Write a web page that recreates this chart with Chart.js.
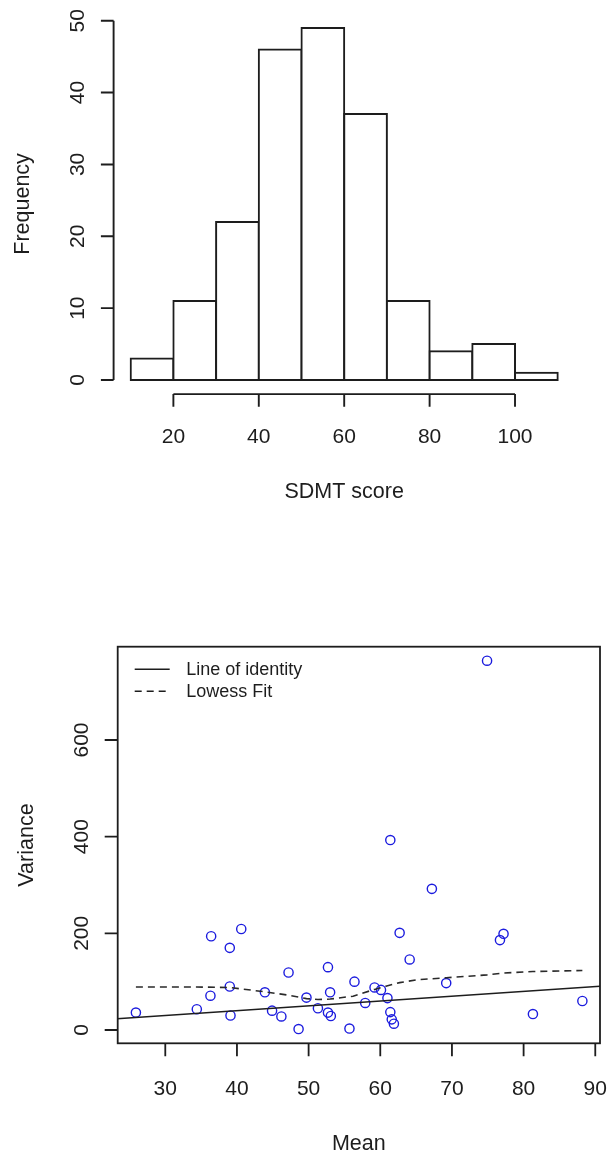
<!DOCTYPE html>
<html>
<head>
<meta charset="utf-8">
<script src="https://cdn.jsdelivr.net/npm/chart.js@4.4.1/dist/chart.umd.min.js"></script>
<style>
  html, body { margin: 0; padding: 0; background: #fff; }
  body { width: 609px; height: 1157px; position: relative; overflow: hidden; }
  canvas { position: absolute; left: 0; }
  #hist { top: 0; }
  #scatter { top: 560px; }
</style>
</head>
<body>
<canvas id="hist" width="609" height="540"></canvas>
<canvas id="scatter" width="609" height="597"></canvas>
<script>
// SDMT score histogram: bin midpoints (bins 10 wide) and counts
const binMids = [15, 25, 35, 45, 55, 65, 75, 85, 95, 105];
const binCounts = [3, 11, 22, 46, 49, 37, 11, 4, 5, 1];
const histXTicks = [20, 40, 60, 80, 100];
const histYTicks = [0, 10, 20, 30, 40, 50];

// Mean and variance of each item
const meanVals = [25.9, 34.4, 36.3, 36.4, 39.0, 39.0, 39.1, 40.6, 43.9, 44.9,
                  46.2, 47.2, 48.6, 49.7, 51.3, 52.7, 53.0, 52.7, 53.1, 55.7,
                  56.4, 57.9, 59.2, 60.1, 61.0, 61.4, 61.6, 61.9, 61.4, 62.7,
                  64.1, 67.2, 69.2, 74.9, 76.7, 77.2, 81.3, 88.2];
const varianceVals = [36, 43, 71, 194, 170, 90, 30, 209, 78, 40,
                      28, 119, 2, 67, 45, 130, 78, 36, 29, 3,
                      100, 56, 88, 83, 66, 37, 22, 13, 393, 201,
                      146, 292, 97, 764, 186, 199, 33, 60];

// Lowess smooth of variance on mean
const lowessX = [25.9, 34.4, 39.0, 43.9, 47.2, 49.7, 51.3, 53.0, 56.2, 59.2,
                 60.9, 62.7, 65.1, 69.2, 74.9, 77.2, 81.3, 88.2];
const lowessY = [89, 89, 88, 79, 72, 65, 63, 64, 70, 84,
                 91, 98, 104, 108, 114, 118, 121, 123];

// Line of identity (variance = mean), clipped to the plot box
const identityX = [20, 95];
const identityY = [20, 95];

const scatXTicks = [30, 40, 50, 60, 70, 80, 90];
const scatYTicks = [0, 200, 400, 600];

const FONT = '"Liberation Sans", Arial, Helvetica, sans-serif';
const INK = '#1d1d1d';
const BLUE = 'rgb(28, 28, 222)';

// Base-graphics style axes: ticks, rotated y labels and axis titles
function baseAxes(o) {
  return {
    id: 'baseAxes',
    afterDraw(chart) {
      const { ctx, chartArea: a } = chart;
      const x = chart.scales.x, y = chart.scales.y;
      ctx.save();
      ctx.strokeStyle = INK;
      ctx.fillStyle = INK;
      ctx.lineWidth = o.lw;
      ctx.lineCap = 'butt';
      if (o.box) {
        ctx.strokeRect(a.left, a.top, a.right - a.left, a.bottom - a.top);
      }
      const xs = o.xTicks.map(v => x.getPixelForValue(v));
      const ys = o.yTicks.map(v => y.getPixelForValue(v));
      ctx.beginPath();
      if (!o.box) {
        ctx.moveTo(xs[0], a.bottom); ctx.lineTo(xs[xs.length - 1], a.bottom);
        ctx.moveTo(a.left, ys[0]); ctx.lineTo(a.left, ys[ys.length - 1]);
      }
      xs.forEach(px => { ctx.moveTo(px, a.bottom); ctx.lineTo(px, a.bottom + o.tick); });
      ys.forEach(py => { ctx.moveTo(a.left, py); ctx.lineTo(a.left - o.tick, py); });
      ctx.stroke();

      ctx.textAlign = 'center';
      ctx.textBaseline = 'alphabetic';
      ctx.font = o.tickSize + 'px ' + FONT;
      o.xTicks.forEach((v, i) => ctx.fillText(String(v), xs[i], a.bottom + o.xLabOff));
      o.yTicks.forEach((v, i) => {
        ctx.save();
        ctx.translate(a.left - o.yLabOff, ys[i]);
        ctx.rotate(-Math.PI / 2);
        ctx.fillText(String(v), 0, 0);
        ctx.restore();
      });
      ctx.font = o.titleSize + 'px ' + FONT;
      ctx.fillText(o.xTitle, (a.left + a.right) / 2, a.bottom + o.xTitleOff);
      ctx.save();
      ctx.translate(a.left - o.yTitleOff, (a.top + a.bottom) / 2);
      ctx.rotate(-Math.PI / 2);
      ctx.fillText(o.yTitle, 0, 0);
      ctx.restore();

      if (o.legend) {
        ctx.font = o.legendSize + 'px ' + FONT;
        ctx.textAlign = 'left';
        ctx.textBaseline = 'middle';
        o.legend.forEach((ds, i) => {
          const ly = a.top + 22.5 + i * 22;
          ctx.beginPath();
          ctx.lineWidth = ds.borderWidth;
          ctx.setLineDash(ds.borderDash || []);
          ctx.moveTo(a.left + 17, ly);
          ctx.lineTo(a.left + 52, ly);
          ctx.stroke();
          ctx.setLineDash([]);
          ctx.fillText(ds.label, a.left + 68.5, ly + 1);
        });
      }
      ctx.restore();
    }
  };
}

const hidden = { display: false };

// Histogram
new Chart(document.getElementById('hist'), {
  type: 'bar',
  data: {
    datasets: [{
      label: 'Frequency',
      data: binMids.map((m, i) => ({ x: m, y: binCounts[i] })),
      backgroundColor: '#ffffff',
      borderColor: INK,
      borderWidth: 2,
      borderSkipped: false,
      inflateAmount: 1,
      barPercentage: 1,
      categoryPercentage: 1
    }]
  },
  options: {
    responsive: false,
    devicePixelRatio: 1,
    animation: false,
    events: [],
    layout: { padding: { left: 113.6, right: 34.2, top: 13.8, bottom: 145.9 } },
    plugins: { legend: hidden, tooltip: { enabled: false } },
    scales: {
      x: { type: 'linear', min: 6, max: 114, offset: false, display: false },
      y: { type: 'linear', min: -1.96, max: 50.96, display: false }
    }
  },
  plugins: [baseAxes({
    box: false, lw: 1.9, tick: 12.7,
    xTicks: histXTicks, yTicks: histYTicks,
    tickSize: 21, titleSize: 21.5,
    xLabOff: 49.2, xTitleOff: 104, yLabOff: 29.8, yTitleOff: 84.3,
    xTitle: 'SDMT score', yTitle: 'Frequency'
  })]
});

// Mean-variance scatter with reference lines
const identityDs = {
  type: 'line',
  label: 'Line of identity',
  data: identityX.map((v, i) => ({ x: v, y: identityY[i] })),
  borderColor: INK, borderWidth: 1.6, pointRadius: 0, tension: 0, order: 0
};
const lowessDs = {
  type: 'line',
  label: 'Lowess Fit',
  data: lowessX.map((v, i) => ({ x: v, y: lowessY[i] })),
  borderColor: '#2a2a2a', borderWidth: 1.6, borderDash: [7, 5],
  pointRadius: 0, tension: 0, order: 0
};

new Chart(document.getElementById('scatter'), {
  type: 'scatter',
  data: {
    datasets: [
      identityDs,
      lowessDs,
      {
        type: 'scatter',
        label: 'Items',
        data: meanVals.map((m, i) => ({ x: m, y: varianceVals[i] })),
        pointStyle: 'circle',
        pointRadius: 4.6,
        pointBorderWidth: 1.4,
        pointBackgroundColor: 'rgba(0,0,0,0)',
        pointBorderColor: BLUE,
        borderColor: BLUE,
        backgroundColor: 'rgba(0,0,0,0)',
        order: 1
      }
    ]
  },
  options: {
    responsive: false,
    devicePixelRatio: 1,
    animation: false,
    events: [],
    layout: { padding: { left: 117.7, right: 9, top: 86.7, bottom: 113.7 } },
    plugins: { legend: hidden, tooltip: { enabled: false } },
    scales: {
      x: { type: 'linear', min: 23.36, max: 90.66, display: false },
      y: { type: 'linear', min: -27.5, max: 793, display: false }
    }
  },
  plugins: [baseAxes({
    box: true, lw: 1.8, tick: 13,
    xTicks: scatXTicks, yTicks: scatYTicks,
    tickSize: 21, titleSize: 21.5,
    xLabOff: 51.2, xTitleOff: 107, yLabOff: 29.8, yTitleOff: 84.3,
    xTitle: 'Mean', yTitle: 'Variance',
    legendSize: 18, legend: [identityDs, lowessDs]
  })]
});
</script>
</body>
</html>
